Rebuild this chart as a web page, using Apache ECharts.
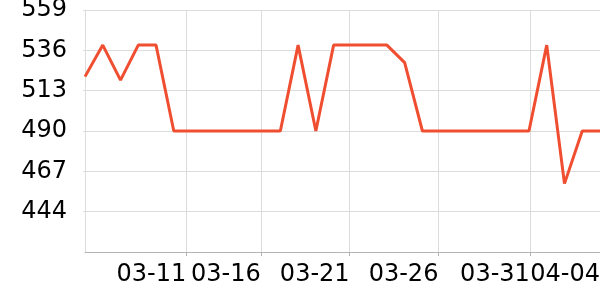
<!DOCTYPE html>
<html>
<head>
<meta charset="utf-8">
<script src="https://cdn.jsdelivr.net/npm/echarts@6/dist/echarts.min.js"></script>
<style>html,body{margin:0;padding:0;background:#fff}#c{width:600px;height:300px}</style>
</head>
<body>
<div id="c"></div>
<script>
// day index along the x axis (0 = first day shown)
var days = ['03-06','03-07','03-08','03-09','03-10','03-11','03-12','03-13','03-14','03-15',
            '03-16','03-17','03-18','03-19','03-20','03-21','03-22','03-23','03-24','03-25',
            '03-26','03-27','03-28','03-29','03-30','03-31','04-01','04-02','04-03','04-04'];
var values = [521, 539, 519, 539, 539, 490, 490, 490, 490, 490,
              490, 490, 539, 490, 539, 539, 539, 539, 529, 490,
              490, 490, 490, 490, 490, 490, 539, 460, 490, 490];
var tickLabels = ['03-11', '03-16', '03-21', '03-26', '03-31', '04-04'];
var tickPositions = [5.7, 9.9, 14.9, 19.9, 25.05, 29];
var yMin = 421, yMax = 559, yStep = 23;

var chart = echarts.init(document.getElementById('c'), null, {renderer: 'canvas'});
var font = 'DejaVu Sans';
chart.setOption({
  animation: false,
  grid: {left: 85, top: 10, right: 0, bottom: 48, containLabel: false, outerBoundsMode: 'none'},
  xAxis: {
    type: 'value', min: 0, max: days.length - 1,
    axisLine: {show: true, lineStyle: {color: '#b4b4b4', width: 1}},
    axisTick: {show: true, length: 4, lineStyle: {color: '#b4b4b4'}, customValues: tickPositions},
    splitLine: {show: true, lineStyle: {color: '#dcdcdc', width: 1}},
    axisLabel: {
      customValues: tickPositions,
      align: 'right', margin: 11,
      fontFamily: font, fontSize: 24, color: '#000',
      formatter: function (v) {
        for (var i = 0; i < tickPositions.length; i++) {
          if (Math.abs(tickPositions[i] - v) < 1e-6) return tickLabels[i];
        }
        return '';
      }
    }
  },
  yAxis: {
    type: 'value', min: yMin, max: yMax, interval: yStep,
    axisLine: {show: true, lineStyle: {color: '#dcdcdc'}},
    axisTick: {show: true, length: 2, lineStyle: {color: '#dcdcdc'}},
    splitLine: {show: true, lineStyle: {color: '#dcdcdc', width: 1}},
    axisLabel: {showMinLabel: false, fontFamily: font, fontSize: 24, color: '#000', margin: 18}
  },
  series: [{
    type: 'line',
    data: values.map(function (v, i) { return [i, v]; }),
    showSymbol: false, symbol: 'none',
    lineStyle: {color: '#f04e30', width: 3},
    itemStyle: {color: '#f04e30'}
  }]
});
</script>
</body>
</html>
